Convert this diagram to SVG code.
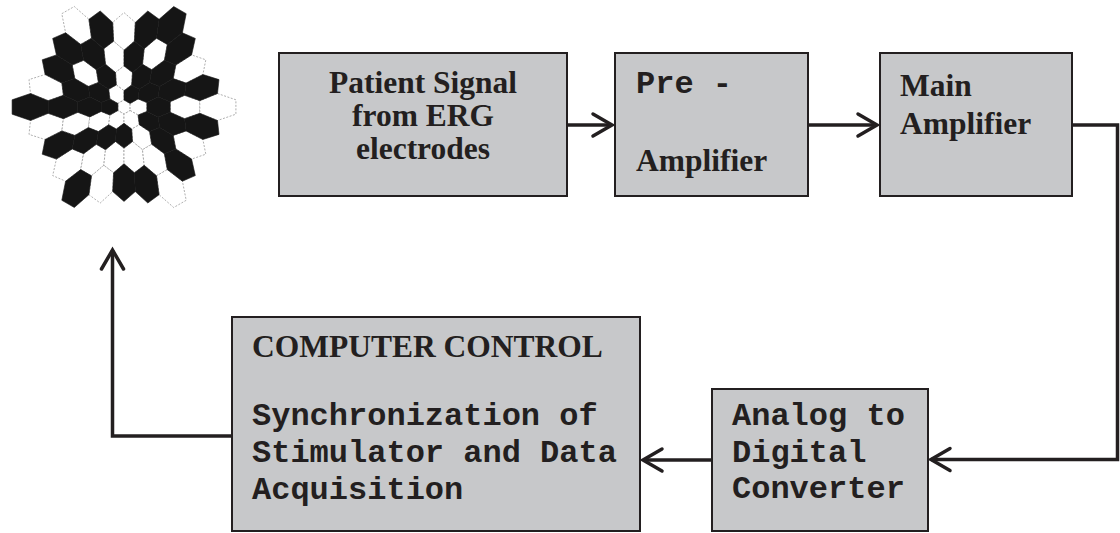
<svg xmlns="http://www.w3.org/2000/svg" width="1120" height="533" viewBox="0 0 1120 533">
<style>
.box{fill:#c7c8ca;stroke:#231f20;stroke-width:2}
.serif{font-family:"Liberation Serif","Times New Roman",serif;font-weight:bold;font-size:31.5px;fill:#231f20}
.mono{font-family:"Liberation Mono","Courier New",monospace;font-weight:bold;font-size:32px;fill:#231f20}
.wire{fill:none;stroke:#231f20;stroke-width:3.5;marker-end:url(#chev)}
.w{fill:#fff;stroke:#9a9a9a;stroke-width:0.8;stroke-dasharray:2 1.5}
.b{fill:#151515;stroke:#151515;stroke-width:0.6}
</style>
<defs>
<marker id="chev" markerUnits="userSpaceOnUse" markerWidth="24" markerHeight="24" refX="20" refY="11" orient="auto" overflow="visible">
<path d="M1,0 L20,11 L1,22" fill="none" stroke="#231f20" stroke-width="3.5" stroke-linecap="round" stroke-linejoin="miter"/>
</marker>
<!-- one quadrant of the eccentricity-scaled hexagon array; other quadrants are mirrored -->
<polygon id="h0_0" points="0,-7.1 6.1,-3.5 6.1,3.5 0,7.1 -6.1,3.5 -6.1,-3.5"/>
<polygon id="h2_0" points="14.1,-8.1 22.9,-4.4 22.9,4.4 14.1,8.1 6.1,3.5 6.1,-3.5"/>
<polygon id="h4_0" points="34.2,-9.9 46.2,-5.3 46.2,5.3 34.2,9.9 22.9,4.4 22.9,-4.4"/>
<polygon id="h6_0" points="60.6,-11.7 75.8,-6.3 75.8,6.3 60.6,11.7 46.2,5.3 46.2,-5.3"/>
<polygon id="h8_0" points="93.5,-13.5 111.9,-7.2 111.9,7.2 93.5,13.5 75.8,6.3 75.8,-6.3"/>
<polygon id="h1_3" points="6.1,3.5 14.1,8.1 15.3,17.7 7.7,22.1 0,16.3 0,7.1"/>
<polygon id="h3_3" points="22.9,4.4 34.2,9.9 35.6,20.6 25.6,24.6 15.3,17.7 14.1,8.1"/>
<polygon id="h5_3" points="46.2,5.3 60.6,11.7 62.1,23.9 49.2,28.4 35.6,20.6 34.2,9.9"/>
<polygon id="h7_3" points="75.8,6.3 93.5,13.5 95,27.4 78.9,32.5 62.1,23.9 60.6,11.7"/>
<polygon id="h0_6" points="0,16.3 7.7,22.1 8.5,34.5 0,41.1 -8.5,34.5 -7.7,22.1"/>
<polygon id="h2_6" points="15.3,17.7 25.6,24.6 27.7,37.3 18.5,42.7 8.5,34.5 7.7,22.1"/>
<polygon id="h4_6" points="35.6,20.6 49.2,28.4 51.8,41.9 40.4,46.7 27.7,37.3 25.6,24.6"/>
<polygon id="h6_6" points="62.1,23.9 78.9,32.5 81.8,47.2 67.6,52.1 51.8,41.9 49.2,28.4"/>
<polygon id="h1_9" points="8.5,34.5 18.5,42.7 20.2,58.3 10.4,65.8 0,56.8 0,41.1"/>
<polygon id="h3_9" points="27.7,37.3 40.4,46.7 43.3,62.6 32.5,68.8 20.2,58.3 18.5,42.7"/>
<polygon id="h5_9" points="51.8,41.9 67.6,52.1 71.3,68.6 58.4,74.2 43.3,62.6 40.4,46.7"/>
<polygon id="h0_12" points="0,56.8 10.4,65.8 11.3,84.6 0,94.4 -11.3,84.6 -10.4,65.8"/>
<polygon id="h2_12" points="20.2,58.3 32.5,68.8 35.1,87.7 23.8,96 11.3,84.6 10.4,65.8"/>
<polygon id="h4_12" points="43.3,62.6 58.4,74.2 62.2,93.3 49.7,100.5 35.1,87.7 32.5,68.8"/>
</defs>

<rect width="1120" height="533" fill="#fff"/>

<!-- multifocal stimulus: white cells first, black cells on top -->
<g id="stimulus" transform="translate(124,107)">
<g class="w">
<use href="#h4_12" transform="scale(-1,-1)"/>
<use href="#h0_12" transform="scale(1,-1)"/>
<use href="#h1_9" transform="scale(-1,-1)"/>
<use href="#h3_9" transform="scale(1,-1)"/>
<use href="#h4_6" transform="scale(-1,-1)"/>
<use href="#h0_6" transform="scale(1,-1)"/>
<use href="#h6_6" transform="scale(1,-1)"/>
<use href="#h7_3" transform="scale(-1,-1)"/>
<use href="#h1_3" transform="scale(-1,-1)"/>
<use href="#h0_0"/>
<use href="#h2_0"/>
<use href="#h6_0"/>
<use href="#h8_0"/>
<use href="#h7_3" transform="scale(-1,1)"/>
<use href="#h5_3" transform="scale(-1,1)"/>
<use href="#h3_3" transform="scale(-1,1)"/>
<use href="#h1_3" transform="scale(-1,1)"/>
<use href="#h1_3"/>
<use href="#h2_6"/>
<use href="#h6_6"/>
<use href="#h5_9" transform="scale(-1,1)"/>
<use href="#h3_9" transform="scale(-1,1)"/>
<use href="#h1_9" transform="scale(-1,1)"/>
<use href="#h1_9"/>
<use href="#h3_9"/>
<use href="#h2_12" transform="scale(-1,1)"/>
<use href="#h4_12"/>
</g>
<g class="b">
<use href="#h2_12" transform="scale(-1,-1)"/>
<use href="#h2_12" transform="scale(1,-1)"/>
<use href="#h4_12" transform="scale(1,-1)"/>
<use href="#h5_9" transform="scale(-1,-1)"/>
<use href="#h3_9" transform="scale(-1,-1)"/>
<use href="#h1_9" transform="scale(1,-1)"/>
<use href="#h5_9" transform="scale(1,-1)"/>
<use href="#h6_6" transform="scale(-1,-1)"/>
<use href="#h2_6" transform="scale(-1,-1)"/>
<use href="#h2_6" transform="scale(1,-1)"/>
<use href="#h4_6" transform="scale(1,-1)"/>
<use href="#h5_3" transform="scale(-1,-1)"/>
<use href="#h3_3" transform="scale(-1,-1)"/>
<use href="#h1_3" transform="scale(1,-1)"/>
<use href="#h3_3" transform="scale(1,-1)"/>
<use href="#h5_3" transform="scale(1,-1)"/>
<use href="#h7_3" transform="scale(1,-1)"/>
<use href="#h8_0" transform="scale(-1,1)"/>
<use href="#h6_0" transform="scale(-1,1)"/>
<use href="#h4_0" transform="scale(-1,1)"/>
<use href="#h2_0" transform="scale(-1,1)"/>
<use href="#h4_0"/>
<use href="#h3_3"/>
<use href="#h5_3"/>
<use href="#h7_3"/>
<use href="#h6_6" transform="scale(-1,1)"/>
<use href="#h4_6" transform="scale(-1,1)"/>
<use href="#h2_6" transform="scale(-1,1)"/>
<use href="#h0_6"/>
<use href="#h4_6"/>
<use href="#h5_9"/>
<use href="#h4_12" transform="scale(-1,1)"/>
<use href="#h0_12"/>
<use href="#h2_12"/>
</g>
</g>

<!-- connectors -->
<g id="connectors">
<path class="wire" d="M567,125 H612"/>
<path class="wire" d="M808,125 H877"/>
<path class="wire" d="M1072,125 H1117.5 V459.5 H931"/>
<path class="wire" d="M712,460 H643"/>
<path class="wire" d="M232,436 H112.5 V250"/>
</g>

<g id="patient-signal">
<rect class="box" x="279" y="53" width="288" height="143"/>
<text class="serif" text-anchor="middle" x="423" y="93">Patient Signal</text>
<text class="serif" text-anchor="middle" x="423" y="126">from ERG</text>
<text class="serif" text-anchor="middle" x="423" y="158.5">electrodes</text>
</g>

<g id="pre-amplifier">
<rect class="box" x="615" y="53" width="193" height="143"/>
<text class="mono" x="636" y="93">Pre -</text>
<text class="serif" x="636" y="171">Amplifier</text>
</g>

<g id="main-amplifier">
<rect class="box" x="880" y="53" width="192" height="143"/>
<text class="serif" x="900" y="96">Main</text>
<text class="serif" x="900" y="134">Amplifier</text>
</g>

<g id="adc">
<rect class="box" x="712" y="389" width="216" height="142"/>
<text class="mono" x="732" y="425">Analog to</text>
<text class="mono" x="732" y="462">Digital</text>
<text class="mono" x="732" y="498">Converter</text>
</g>

<g id="computer-control">
<rect class="box" x="232" y="317" width="408" height="214"/>
<text class="serif" x="252" y="357">COMPUTER CONTROL</text>
<text class="mono" x="252" y="425">Synchronization of</text>
<text class="mono" x="252" y="462">Stimulator and Data</text>
<text class="mono" x="252" y="499">Acquisition</text>
</g>
</svg>
